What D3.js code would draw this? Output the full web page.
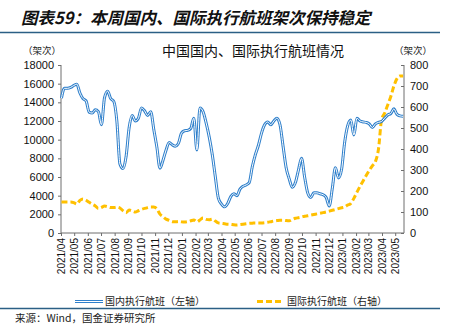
<!DOCTYPE html>
<html><head><meta charset="utf-8">
<script src="https://cdn.jsdelivr.net/npm/d3@7"></script>
<style>
html,body{margin:0;padding:0;background:#fff;}
svg{display:block;}
</style></head>
<body>
<svg id="chart" width="449" height="325"></svg>
<script>
const dates = [
"2021-04-02","2021-04-09","2021-04-16","2021-04-23","2021-04-30","2021-05-07","2021-05-14","2021-05-21","2021-05-28","2021-06-04",
"2021-06-11","2021-06-18","2021-06-25","2021-07-02","2021-07-09","2021-07-16","2021-07-23","2021-07-30","2021-08-06","2021-08-13",
"2021-08-20","2021-08-27","2021-09-03","2021-09-10","2021-09-17","2021-09-24","2021-10-01","2021-10-08","2021-10-15","2021-10-22",
"2021-10-29","2021-11-05","2021-11-12","2021-11-19","2021-11-26","2021-12-03","2021-12-10","2021-12-17","2021-12-24","2021-12-31",
"2022-01-07","2022-01-14","2022-01-21","2022-01-28","2022-02-04","2022-02-11","2022-02-18","2022-02-25","2022-03-04","2022-03-11",
"2022-03-18","2022-03-25","2022-04-01","2022-04-08","2022-04-15","2022-04-22","2022-04-29","2022-05-06","2022-05-13","2022-05-20",
"2022-05-27","2022-06-03","2022-06-10","2022-06-17","2022-06-24","2022-07-01","2022-07-08","2022-07-15","2022-07-22","2022-07-29",
"2022-08-05","2022-08-12","2022-08-19","2022-08-26","2022-09-02","2022-09-09","2022-09-16","2022-09-23","2022-09-30","2022-10-07",
"2022-10-14","2022-10-21","2022-10-28","2022-11-04","2022-11-11","2022-11-18","2022-11-25","2022-12-02","2022-12-09","2022-12-16",
"2022-12-23","2022-12-30","2023-01-06","2023-01-13","2023-01-20","2023-01-27","2023-02-03","2023-02-10","2023-02-17","2023-02-24",
"2023-03-03","2023-03-10","2023-03-17","2023-03-24","2023-03-31","2023-04-07","2023-04-14","2023-04-21","2023-04-28","2023-05-05",
"2023-05-12","2023-05-19"];

const domesticFlights = [
14450,15500,15500,15600,15800,15950,15000,14400,14150,12950,
12850,13200,13000,11600,14500,15200,14400,14100,12000,7400,
6900,8200,11300,12600,12000,12300,13400,13100,12600,13000,
11100,9200,6950,7800,8900,9700,9450,9300,9600,10700,
10950,11000,11200,12300,8900,13400,13000,11800,10300,8400,
6000,3700,3100,2800,3150,3900,4200,4000,4700,5000,
5150,5400,7100,8400,9400,10700,11600,11900,11600,12000,
12300,11600,9300,7000,5800,4900,5400,6750,8000,6000,
4300,3800,4300,4300,4200,4100,3800,2900,4800,7000,
5900,6800,9700,11500,12100,10500,12300,12000,11900,11850,
11700,11300,11700,11850,11950,12300,12650,12800,13300,12700,
12550,12500];

const internationalFlights = [
148,148,148,148,145,138,155,162,156,146,
137,129,117,122,128,125,121,121,123,119,
106,97,109,105,100,106,112,117,121,124,
124,115,90,78,66,60,54,53,55,53,
52,54,58,62,53,62,71,65,63,66,
57,48,46,44,42,41,39,38,40,42,
44,46,47,48,48,48,49,51,54,57,
59,61,61,59,58,64,70,73,76,80,
82,85,88,91,94,97,100,104,108,112,
116,120,124,133,141,165,194,222,248,274,
298,320,340,400,540,571,610,650,700,735,
748,748];

const monthTicks = ["2021/04","2021/05","2021/06","2021/07","2021/08","2021/09","2021/10","2021/11","2021/12",
"2022/01","2022/02","2022/03","2022/04","2022/05","2022/06","2022/07","2022/08","2022/09","2022/10","2022/11","2022/12",
"2023/01","2023/02","2023/03","2023/04","2023/05"];
const leftTicks = [0,2000,4000,6000,8000,10000,12000,14000,16000,18000];
const rightTicks = [0,100,200,300,400,500,600,700,800];

const figTitle = "图表59：本周国内、国际执行航班架次保持稳定";
const chartTitle = "中国国内、国际执行航班情况";
const unitLabel = "（架次）";
const seriesNames = ["国内执行航班（左轴）","国际执行航班（右轴）"];
const sourceText = "来源：Wind，国金证券研究所";

(function(){
const svg = d3.select("#chart");
const parse = d3.timeParse("%Y-%m-%d");
const parseM = d3.timeParse("%Y/%m");
const font = "Arial, 'Liberation Sans', 'Noto Sans CJK SC', sans-serif";
const cjk = "'Noto Sans CJK SC', sans-serif";

const pL = 61, pR = 404, pT = 65, pB = 233;
const x = d3.scaleTime().domain([parse("2021-04-01"), parse("2023-05-21")]).range([pL, pR]);
const yL = d3.scaleLinear().domain([0,18000]).range([pB, pT]);
const yR = d3.scaleLinear().domain([0,800]).range([pB, pT]);

svg.append("text").attr("x",21).attr("y",24)
  .attr("font-family",cjk).attr("font-size",16.5).attr("font-weight","bold").attr("font-style","italic")
  .attr("fill","#111").text(figTitle);
svg.append("line").attr("x1",0).attr("x2",440).attr("y1",32.5).attr("y2",32.5)
  .attr("stroke","#2B5F85").attr("stroke-width",1.5);

svg.append("text").attr("x",253).attr("y",56).attr("text-anchor","middle")
  .attr("font-family",cjk).attr("font-size",14).attr("fill","#111").text(chartTitle);
svg.append("text").attr("x",42).attr("y",54).attr("text-anchor","middle")
  .attr("font-family",cjk).attr("font-size",9.5).attr("fill","#222").text(unitLabel);
svg.append("text").attr("x",413).attr("y",54).attr("text-anchor","middle")
  .attr("font-family",cjk).attr("font-size",9.5).attr("fill","#222").text(unitLabel);

const axisColor = "#6e6e6e";
const gL = svg.append("g").attr("transform",`translate(${pL},0)`)
  .call(d3.axisLeft(yL).tickValues(leftTicks).tickFormat(d3.format("d")).tickSize(3).tickPadding(4));
const gR = svg.append("g").attr("transform",`translate(${pR},0)`)
  .call(d3.axisRight(yR).tickValues(rightTicks).tickFormat(d3.format("d")).tickSize(-3).tickPadding(6));
const gX = svg.append("g").attr("transform",`translate(0,${pB})`)
  .call(d3.axisBottom(x).tickValues(monthTicks.map(parseM)).tickFormat(d3.timeFormat("%Y/%m")).tickSize(3).tickPadding(3));
[gL,gR,gX].forEach(g=>{
  g.select(".domain").attr("stroke",axisColor).attr("stroke-width",1);
  g.selectAll(".tick line").attr("stroke",axisColor);
  g.selectAll("text").attr("font-family",font).attr("font-size",11).attr("fill","#111");
});
gX.select(".domain").attr("d",`M${pL},0H${pR}`);
gL.select(".domain").attr("d",`M0,${pB}V${pT}`);
gR.select(".domain").attr("d",`M0,${pB}V${pT}`);
gX.selectAll("text").attr("font-size",10)
  .attr("transform","rotate(-90)").attr("text-anchor","end").attr("x",-5).attr("y",0).attr("dy","0.35em");

const lineL = d3.line().x((d,i)=>x(parse(dates[i]))).y(d=>yL(d)).curve(d3.curveMonotoneX);
const lineR = d3.line().x((d,i)=>x(parse(dates[i]))).y(d=>yR(d)).curve(d3.curveMonotoneX);

svg.append("path").datum(internationalFlights).attr("d",lineR).attr("fill","none")
  .attr("stroke","#FFC000").attr("stroke-width",3).attr("stroke-dasharray","6,3");
svg.append("path").datum(domesticFlights).attr("d",lineL).attr("fill","none")
  .attr("stroke","#2E7FCB").attr("stroke-width",3).attr("stroke-linejoin","round");
svg.append("path").datum(domesticFlights).attr("d",lineL).attr("fill","none")
  .attr("stroke","#fff").attr("stroke-width",1).attr("stroke-linejoin","round");

const ly = 301.5;
svg.append("line").attr("x1",75).attr("x2",103).attr("y1",ly).attr("y2",ly).attr("stroke","#2E7FCB").attr("stroke-width",3);
svg.append("line").attr("x1",75).attr("x2",103).attr("y1",ly).attr("y2",ly).attr("stroke","#fff").attr("stroke-width",1);
svg.append("text").attr("x",105).attr("y",ly+3.5).attr("font-family",cjk).attr("font-size",10).attr("fill","#222").text(seriesNames[0]);
svg.append("line").attr("x1",257).attr("x2",283).attr("y1",ly).attr("y2",ly).attr("stroke","#FFC000").attr("stroke-width",3).attr("stroke-dasharray","6,3");
svg.append("text").attr("x",287).attr("y",ly+3.5).attr("font-family",cjk).attr("font-size",10).attr("fill","#222").text(seriesNames[1]);

svg.append("line").attr("x1",0).attr("x2",440).attr("y1",308.5).attr("y2",308.5)
  .attr("stroke","#2B5F85").attr("stroke-width",1.5);
svg.append("text").attr("x",15).attr("y",322).attr("font-family",cjk).attr("font-size",10.5).attr("fill","#222").text(sourceText);
})();
</script>
</body></html>
